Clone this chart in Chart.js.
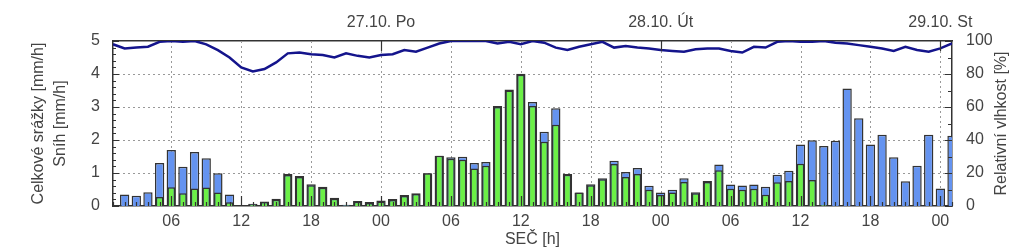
<!DOCTYPE html>
<html>
<head>
<meta charset="utf-8">
<script src="https://cdn.jsdelivr.net/npm/chart.js@4.4.0/dist/chart.umd.min.js"></script>
<style>
	html, body { margin: 0; padding: 0; background: #fff; }
	#wrap { width: 1024px; height: 248px; }
</style>
</head>
<body>
<div id="wrap"><canvas id="chart"></canvas></div>
<script>
// hours counted from 26.10. 00:00 SEČ
const hours = [
	1, 2, 3, 4, 5, 6, 7, 8, 9, 10, 11, 12, 13, 14, 15, 16, 17, 18, 19, 20, 21, 22, 23, 24,
	25, 26, 27, 28, 29, 30, 31, 32, 33, 34, 35, 36, 37, 38, 39, 40, 41, 42, 43, 44, 45, 46, 47, 48,
	49, 50, 51, 52, 53, 54, 55, 56, 57, 58, 59, 60, 61, 62, 63, 64, 65, 66, 67, 68, 69, 70, 71, 72, 73
];

// total precipitation [mm/h]
const totalPrecip = [
	null, 0.35, 0.31, 0.42, 1.30, 1.70, 1.19, 1.64, 1.45, 0.99, 0.35, null, 0.07, 0.14, 0.22, 0.97,
	0.91, 0.66, 0.58, 0.25, 0.04, 0.15, 0.12, 0.17, 0.21, 0.33, 0.39, 0.99, 1.52, 1.48, 1.49, 1.30,
	1.33, 3.03, 3.53, 4.01, 3.15, 2.25, 2.96, 0.97, 0.41, 0.66, 0.84, 1.37, 1.03, 1.15, 0.61, 0.41,
	0.49, 0.84, 0.42, 0.76, 1.26, 0.65, 0.62, 0.65, 0.58, 0.95, 1.07, 1.86, 1.99, 1.82, 1.98, 3.56,
	2.66, 1.86, 2.16, 1.48, 0.75, 1.22, 2.16, 0.53, 2.13
];

// snow [mm/h]
const snow = [
	null, null, null, null, 0.27, 0.57, 0.39, 0.53, 0.56, 0.41, 0.11, null, 0.05, 0.12, 0.19, 0.94,
	0.88, 0.63, 0.55, 0.22, 0.02, 0.13, 0.09, 0.14, 0.18, 0.30, 0.36, 0.99, 1.52, 1.43, 1.40, 1.14,
	1.22, 3.00, 3.50, 3.98, 3.03, 1.95, 2.46, 0.95, 0.41, 0.63, 0.81, 1.27, 0.88, 0.97, 0.49, 0.33,
	0.41, 0.73, 0.39, 0.73, 1.08, 0.52, 0.49, 0.52, 0.34, 0.72, 0.76, 1.28, 0.79, 0.03, null, null,
	null, null, null, null, null, null, null, null, null
];

// relative humidity [%]
const humidity = [
	98, 95.5, 96, 96.5, 99.5, 100, 99.5, 100, 98, 94.5, 90, 84, 81.5, 83, 87, 92.5,
	93, 92, 91.5, 90, 92.5, 91, 90, 91.5, 92, 94.5, 93.5, 96, 98.5, 100, 100, 100,
	100, 98.5, 99.5, 98, 100, 99, 96, 94.5, 96.5, 98, 99.5, 96, 97, 96, 95.5, 94.5,
	94, 93.5, 95, 95.5, 95.5, 94, 93, 96.5, 96, 99.5, 100, 99.5, 99.5, 100, 99, 98.5,
	97.5, 96.5, 95.5, 94, 96.5, 94.5, 93.5, 95.5, 98.5
];

const bottomTicks = [6, 12, 18, 24, 30, 36, 42, 48, 54, 60, 66, 72];
const bottomLabels = ["06", "12", "18", "00", "06", "12", "18", "00", "06", "12", "18", "00"];
const topTicks = [24, 48, 72];
const topLabels = ["27.10. Po", "28.10. Út", "29.10. St"];
const gridValues = [1, 2, 3, 4];

const textColor = "#444";
const frameColor = "#333";
const gridColor = "#999";
const fontFamily = '"Liberation Sans", Arial, sans-serif';

function toPoints(values) {
	return hours.map((h, i) => ({ x: h, y: values[i] }));
}

function fixedTicks(values) {
	return function (scale) {
		scale.ticks = values.map((v) => ({ value: v }));
	};
}

// dotted grid, inward tick marks and the right axis title
const plotDecor = {
	id: "plotDecor",
	beforeDatasetsDraw(chart) {
		const { ctx, chartArea: a, scales } = chart;
		ctx.save();
		ctx.strokeStyle = gridColor;
		ctx.lineWidth = 1;
		ctx.setLineDash([2, 3]);
		ctx.beginPath();
		gridValues.forEach((v) => {
			const y = Math.round(scales.y.getPixelForValue(v)) + 0.5;
			ctx.moveTo(a.left, y);
			ctx.lineTo(a.right, y);
		});
		bottomTicks.forEach((h) => {
			const x = Math.round(scales.x.getPixelForValue(h)) + 0.5;
			ctx.moveTo(x, a.top);
			ctx.lineTo(x, a.bottom);
		});
		ctx.stroke();
		ctx.restore();
	},
	afterDatasetsDraw(chart) {
		const { ctx, chartArea: a, scales } = chart;
		ctx.save();
		ctx.strokeStyle = frameColor;
		ctx.lineWidth = 1.2;
		ctx.beginPath();
		for (let i = 0; i <= 25; i++) {
			const y = Math.round(scales.y.getPixelForValue(i * 0.2)) + 0.5;
			const len = i % 5 === 0 ? 6 : 3;
			ctx.moveTo(a.left, y);
			ctx.lineTo(a.left + len, y);
		}
		for (let i = 0; i <= 10; i++) {
			const y = Math.round(scales.y1.getPixelForValue(i * 10)) + 0.5;
			const len = i % 2 === 0 ? 7 : 4;
			ctx.moveTo(a.right, y);
			ctx.lineTo(a.right - len, y);
		}
		hours.forEach((h) => {
			const x = Math.round(scales.x.getPixelForValue(h)) + 0.5;
			const len = h % 6 === 0 ? 10 : 4;
			ctx.moveTo(x, a.bottom);
			ctx.lineTo(x, a.bottom - len);
		});
		topTicks.forEach((h) => {
			const x = Math.round(scales.x.getPixelForValue(h)) + 0.5;
			ctx.moveTo(x, a.top);
			ctx.lineTo(x, a.top + 10);
		});
		ctx.stroke();
		ctx.restore();
	},
	afterDraw(chart) {
		// right axis title reads bottom to top
		const { ctx, chartArea: a } = chart;
		ctx.save();
		ctx.fillStyle = textColor;
		ctx.font = "16px " + fontFamily;
		ctx.textAlign = "center";
		ctx.textBaseline = "middle";
		ctx.translate(1002, (a.top + a.bottom) / 2);
		ctx.rotate(-Math.PI / 2);
		ctx.fillText("Relativní vlhkost [%]", 0, 0);
		ctx.restore();
	},
};

const ctx = document.getElementById("chart").getContext("2d");

new Chart(ctx, {
	type: "bar",
	data: {
		datasets: [
			{
				type: "line",
				label: "Relativní vlhkost [%]",
				data: toPoints(humidity),
				xAxisID: "x",
				yAxisID: "y1",
				borderColor: "#14148c",
				borderWidth: 2.5,
				pointRadius: 0,
				tension: 0,
				order: 0,
			},
			{
				label: "Sníh [mm/h]",
				data: toPoints(snow),
				xAxisID: "x",
				yAxisID: "y",
				backgroundColor: "#6cf046",
				borderColor: frameColor,
				borderWidth: 1.5,
				grouped: false,
				categoryPercentage: 1,
				barPercentage: 0.66,
				order: 1,
			},
			{
				label: "Celkové srážky [mm/h]",
				data: toPoints(totalPrecip),
				xAxisID: "x",
				yAxisID: "y",
				backgroundColor: "#6493f0",
				borderColor: frameColor,
				borderWidth: 1.5,
				grouped: false,
				categoryPercentage: 1,
				barPercentage: 0.8,
				order: 2,
			},
		],
	},
	options: {
		responsive: true,
		maintainAspectRatio: false,
		animation: false,
		layout: { padding: 0 },
		plugins: {
			legend: { display: false },
			tooltip: { enabled: false },
		},
		scales: {
			x: {
				type: "linear",
				position: "bottom",
				min: 1,
				max: 73,
				offset: false,
				afterBuildTicks: fixedTicks(bottomTicks),
				afterFit: (scale) => { scale.height = 42; },
				grid: { display: false, drawTicks: false },
				border: { display: true, color: frameColor, width: 1.5 },
				ticks: {
					color: textColor,
					font: { family: fontFamily, size: 16 },
					padding: 6,
					maxRotation: 0,
					autoSkip: false,
					callback: (v, i) => bottomLabels[i],
				},
				title: {
					display: true,
					text: "SEČ [h]",
					color: textColor,
					font: { family: fontFamily, size: 16, lineHeight: 1 },
					padding: { top: 0, bottom: 0 },
				},
			},
			x2: {
				type: "linear",
				position: "top",
				min: 1,
				max: 73,
				offset: false,
				afterBuildTicks: fixedTicks(topTicks),
				afterFit: (scale) => { scale.height = 41; },
				grid: { display: false, drawTicks: false },
				border: { display: true, color: frameColor, width: 1.5 },
				ticks: {
					color: textColor,
					font: { family: fontFamily, size: 16 },
					padding: 9,
					maxRotation: 0,
					autoSkip: false,
					callback: (v, i) => topLabels[i],
				},
			},
			y: {
				position: "left",
				min: 0,
				max: 5,
				afterFit: (scale) => { scale.width = 113; },
				grid: { display: false, drawTicks: false },
				border: { display: true, color: frameColor, width: 1.5 },
				ticks: {
					stepSize: 1,
					color: textColor,
					font: { family: fontFamily, size: 16 },
					padding: 13,
				},
				title: {
					display: true,
					text: ["Celkové srážky [mm/h]", "Sníh [mm/h]"],
					color: textColor,
					font: { family: fontFamily, size: 16, lineHeight: 1.35 },
					padding: { top: 28, bottom: 0 },
				},
			},
			y1: {
				position: "right",
				min: 0,
				max: 100,
				afterFit: (scale) => { scale.width = 72; },
				grid: { display: false, drawTicks: false },
				border: { display: true, color: frameColor, width: 1.5 },
				ticks: {
					stepSize: 20,
					color: textColor,
					font: { family: fontFamily, size: 16 },
					padding: 14,
				},
			},
		},
	},
	plugins: [plotDecor],
});
</script>
</body>
</html>
